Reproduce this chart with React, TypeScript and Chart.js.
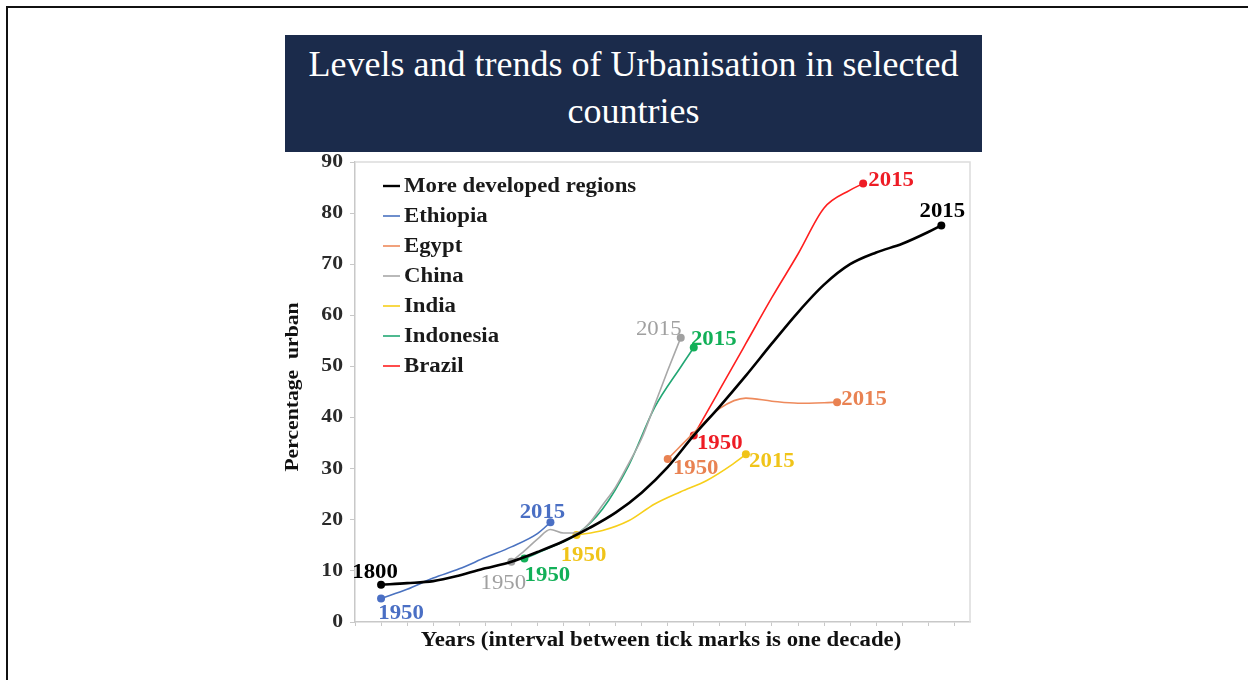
import React, { useEffect, useRef } from 'react';
import Chart from 'chart.js/auto';

// ---------- data ----------
const seriesNames = ['More developed regions', 'Ethiopia', 'Egypt', 'China', 'India', 'Indonesia', 'Brazil'];
const seriesColors = ['#000000', '#4a72c0', '#ee8a5c', '#a8a8a8', '#f7cf1a', '#22a774', '#ff1f1f'];
const labelColors = ['#000000', '#4a6fc4', '#e98252', '#a0a0a0', '#f0c419', '#12b058', '#ee1c25'];

const developedYears = [1800, 1810, 1820, 1830, 1840, 1850, 1860, 1870, 1880, 1890, 1900, 1910, 1920, 1930, 1940, 1950, 1960, 1970, 1980, 1990, 2000, 2010, 2015];
const developedValues = [7.3, 7.6, 8.0, 9.1, 10.5, 11.8, 13.7, 15.8, 18.4, 21.4, 25.3, 30.3, 36.5, 42.2, 48.2, 54.5, 60.6, 66.0, 70.0, 72.3, 74.0, 76.3, 77.6];

const countryYears = [1950, 1960, 1970, 1980, 1990, 2000, 2010, 2015];
const chinaYears = [1950, 1955, 1960, 1965, 1970, 1975, 1980, 1985, 1990, 1995, 2000, 2005, 2010, 2015];
// year on the developed-regions timeline where each country's 1950 is placed
const countryStart = [1800, 1910, 1850, 1875, 1855, 1920]; // Ethiopia, Egypt, China, India, Indonesia, Brazil
const ethiopiaValues = [4.6, 6.4, 8.6, 10.4, 12.6, 14.7, 17.3, 19.5];
const egyptValues = [31.9, 37.0, 41.8, 43.8, 43.2, 42.8, 42.9, 43.0];
const chinaValues = [11.8, 13.9, 16.2, 18.1, 17.4, 17.4, 19.4, 22.9, 26.4, 31.0, 35.9, 42.5, 49.2, 55.6];
const indiaValues = [17.0, 17.9, 19.8, 23.1, 25.5, 27.7, 30.9, 32.8];
const indonesiaValues = [12.4, 14.6, 17.1, 22.1, 30.6, 42.0, 49.9, 53.7];
const brazilValues = [36.5, 45.5, 54.5, 63.5, 72.0, 81.0, 84.5, 85.8];

const startLabels = ['1800', '1950', '1950', '1950', '1950', '1950', '1950'];
const endLabels = ['2015', '2015', '2015', '2015', '2015', '2015', '2015'];

const yTicks = [0, 10, 20, 30, 40, 50, 60, 70, 80, 90];
const xTickYears = [1790, 1800, 1810, 1820, 1830, 1840, 1850, 1860, 1870, 1880, 1890, 1900, 1910, 1920, 1930, 1940, 1950, 1960, 1970, 1980, 1990, 2000, 2010, 2020];

const yTitle = 'Percentage  urban';
const xTitle = 'Years (interval between tick marks is one decade)';

// label offsets (px) from the first / last point
const startOffsets = [[-6, -12], [20, 15], [28, 10], [-8, 22], [7, 21], [23, 17], [26, 8]];
const endOffsets = [[1, -14], [-8, -10], [27, -2], [-22, -8], [26, 7], [20, -8], [28, -3]];
const labelBold = [true, true, true, false, true, true, true];

const SERIF = '"Liberation Serif", "DejaVu Serif", serif';
const STRETCH = 1.14;

function buildDatasets() {
  const countryValues = [ethiopiaValues, egyptValues, chinaValues, indiaValues, indonesiaValues, brazilValues];
  const sets: any[] = [];
  sets.push({
    label: seriesNames[0],
    data: developedYears.map((y, i) => ({ x: y, y: developedValues[i] })),
    borderColor: seriesColors[0],
    backgroundColor: seriesColors[0],
    borderWidth: 2.6,
  });
  countryValues.forEach((vals, k) => {
    const yrs = vals === chinaValues ? chinaYears : countryYears;
    sets.push({
      label: seriesNames[k + 1],
      data: yrs.map((y, i) => ({ x: countryStart[k] + (y - yrs[0]), y: vals[i] })),
      borderColor: seriesColors[k + 1],
      backgroundColor: labelColors[k + 1],
      borderWidth: 1.6,
    });
  });
  return sets.map((s) => ({
    ...s,
    cubicInterpolationMode: 'monotone',
    pointRadius: (ctx: any) => {
      const n = ctx.dataset.data.length;
      return ctx.dataIndex === 0 || ctx.dataIndex === n - 1 ? 4 : 0;
    },
    pointBackgroundColor: s.backgroundColor,
    pointBorderWidth: 0,
    fill: false,
  }));
}

function drawText(ctx: any, s: string, x: number, y: number, size: number, bold: boolean, color: string, align: string, rot = 0) {
  ctx.save();
  ctx.translate(x, y);
  if (rot) ctx.rotate(rot);
  ctx.scale(STRETCH, 1);
  ctx.font = `${bold ? 'bold ' : ''}${size}px ${SERIF}`;
  ctx.fillStyle = color;
  ctx.textAlign = align;
  ctx.textBaseline = 'middle';
  ctx.fillText(s, 0, 0);
  ctx.restore();
}

const decorPlugin = {
  id: 'decor',
  beforeDatasetsDraw(chart: any) {
    const { ctx, chartArea } = chart;
    ctx.save();
    ctx.strokeStyle = '#dcdcdc';
    ctx.lineWidth = 1.5;
    ctx.beginPath();
    ctx.moveTo(chartArea.left, chartArea.top);
    ctx.lineTo(chartArea.right, chartArea.top);
    ctx.lineTo(chartArea.right, chartArea.bottom);
    ctx.stroke();
    ctx.restore();
  },
  afterDatasetsDraw(chart: any) {
    const { ctx, chartArea, scales } = chart;
    // axis tick labels and titles
    yTicks.forEach((v) => {
      drawText(ctx, String(v), chartArea.left - 12, scales.y.getPixelForValue(v), 19, true, '#2a2a2a', 'right');
    });
    drawText(ctx, yTitle, 293, (chartArea.top + chartArea.bottom) / 2 - 5, 19, true, '#111', 'center', -Math.PI / 2);
    drawText(ctx, xTitle, 661, 641, 20, true, '#111', 'center');

    // point labels
    chart.data.datasets.forEach((ds: any, i: number) => {
      const meta = chart.getDatasetMeta(i);
      const pts = meta.data;
      const first = pts[0];
      const last = pts[pts.length - 1];
      drawText(ctx, startLabels[i], first.x + startOffsets[i][0], first.y + startOffsets[i][1], 20, labelBold[i], labelColors[i], 'center');
      drawText(ctx, endLabels[i], last.x + endOffsets[i][0], last.y + endOffsets[i][1], 20, labelBold[i], labelColors[i], 'center');
    });

    // legend
    const lx = chartArea.left + 28;
    let ly = chartArea.top + 24;
    seriesNames.forEach((name, i) => {
      ctx.save();
      ctx.strokeStyle = seriesColors[i];
      ctx.lineWidth = i === 0 ? 2.4 : 1.6;
      ctx.beginPath();
      ctx.moveTo(lx, ly);
      ctx.lineTo(lx + 17, ly);
      ctx.stroke();
      ctx.restore();
      drawText(ctx, name, lx + 21, ly + 1, 20, true, '#1a1a1a', 'left');
      ly += 30;
    });
  },
};

export default function App() {
  const ref = useRef<HTMLCanvasElement | null>(null);
  useEffect(() => {
    if (!ref.current) return;
    const chart = new Chart(ref.current, {
      type: 'line',
      data: { datasets: buildDatasets() as any },
      options: {
        animation: false,
        responsive: false,
        devicePixelRatio: 1,
        layout: { padding: { left: 272, top: 162, right: 278, bottom: 16 } },
        plugins: { legend: { display: false }, tooltip: { enabled: false } },
        scales: {
          x: {
            type: 'linear',
            min: 1790,
            max: 2026,
            afterBuildTicks: (scale: any) => {
              scale.ticks = xTickYears.map((v) => ({ value: v }));
            },
            afterFit: (scale: any) => {
              scale.height = 42;
            },
            ticks: { display: false },
            grid: { drawOnChartArea: false, tickLength: 4, color: '#c8c8c8' },
            border: { color: '#c8c8c8', width: 1.5 },
            title: { display: false },
          },
          y: {
            min: 0,
            max: 90,
            afterBuildTicks: (scale: any) => {
              scale.ticks = yTicks.map((v) => ({ value: v }));
            },
            afterFit: (scale: any) => {
              scale.width = 83;
            },
            ticks: { display: false },
            grid: { drawOnChartArea: false, tickLength: 5, color: '#c8c8c8' },
            border: { color: '#c8c8c8', width: 1.5 },
            title: { display: false },
          },
        },
      },
      plugins: [decorPlugin],
    });
    return () => chart.destroy();
  }, []);

  return (
    <div style={{ position: 'absolute', left: 0, top: 0, width: 1248, height: 680, background: '#fff', overflow: 'hidden' }}>
      <div style={{ position: 'absolute', left: 6, top: 6, width: 1250, height: 680, borderTop: '2px solid #111', borderLeft: '2px solid #111' }} />
      <div
        style={{
          position: 'absolute',
          left: 285,
          top: 35,
          width: 697,
          height: 117,
          background: '#1b2b4b',
          color: '#fff',
          fontFamily: SERIF,
          fontSize: 36,
          lineHeight: '47px',
          textAlign: 'center',
          paddingTop: 6,
          boxSizing: 'border-box',
        }}
      >
        Levels and trends of Urbanisation in selected
        <br />
        countries
      </div>
      <canvas ref={ref} width={1248} height={680} style={{ position: 'absolute', left: 0, top: 0 }} />
    </div>
  );
}
